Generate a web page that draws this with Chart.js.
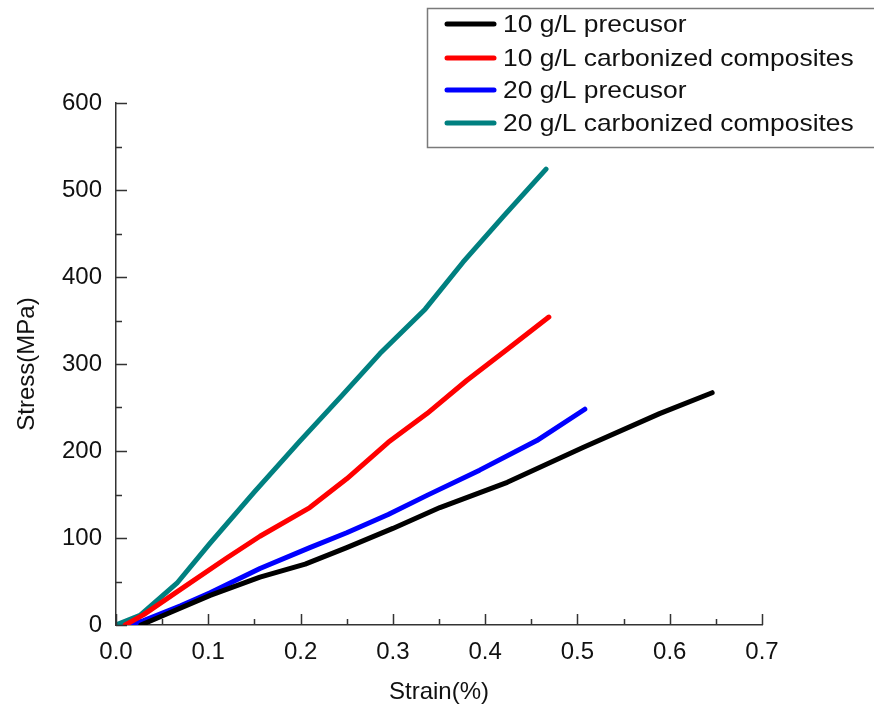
<!DOCTYPE html>
<html>
<head>
<meta charset="utf-8">
<script src="https://cdn.jsdelivr.net/npm/chart.js@4"></script>
<style>
  html, body { margin: 0; padding: 0; background: #fff; }
  #box { width: 874px; height: 708px; }
</style>
</head>
<body>
<div id="box"><canvas id="stress"></canvas></div>
<script>
// strain (%) / stress (MPa) readings for each sample
var strain10p = [0.027, 0.06, 0.102, 0.156, 0.205, 0.25, 0.3, 0.351, 0.424, 0.506, 0.589, 0.646];
var stress10p = [0, 15, 34, 55, 70, 89, 111, 135, 164, 204, 243, 267];

var strain10c = [0.01, 0.03, 0.066, 0.12, 0.156, 0.21, 0.25, 0.295, 0.337, 0.38, 0.423, 0.469];
var stress10c = [0, 12, 38, 77, 102, 135, 168, 210, 243, 281, 316, 354];

var strain20p = [0.015, 0.03, 0.07, 0.102, 0.156, 0.21, 0.25, 0.295, 0.337, 0.394, 0.456, 0.508];
var stress20p = [0, 5, 22, 37, 65, 89, 106, 127, 149, 178, 212, 248];

var strain20c = [0, 0.026, 0.066, 0.102, 0.15, 0.199, 0.245, 0.286, 0.335, 0.376, 0.42, 0.466];
var stress20c = [0, 11, 48, 94, 153, 211, 264, 312, 363, 417, 470, 524];

var seriesNames = ["10 g/L precusor", "10 g/L carbonized composites", "20 g/L precusor", "20 g/L carbonized composites"];
var seriesColors = ["#000000", "#ff0000", "#0000ff", "#008080"];

var xTicks = [0, 0.1, 0.2, 0.3, 0.4, 0.5, 0.6, 0.7];
var yTicks = [0, 100, 200, 300, 400, 500, 600];

var FONT = "'Liberation Sans', Arial, sans-serif";
var AXIS_COLOR = "#333";
var TEXT_COLOR = "#111";

function pairUp(xs, ys) {
    return xs.map(function (x, i) { return { x: x, y: ys[i] }; });
}

function makeSet(i, xs, ys) {
    return {
        label: seriesNames[i],
        data: pairUp(xs, ys),
        borderColor: seriesColors[i],
        backgroundColor: seriesColors[i],
        borderWidth: 5,
        borderCapStyle: 'round',
        borderJoinStyle: 'round',
        pointRadius: 0,
        showLine: true,
        fill: false,
        tension: 0
    };
}

// inward major and minor tick marks, like the plotting package draws them
var tickMarks = {
    id: 'tickMarks',
    afterDatasetsDraw: function (chart) {
        var ctx = chart.ctx;
        var xs = chart.scales.x, ys = chart.scales.y;
        var area = chart.chartArea;
        ctx.save();
        ctx.strokeStyle = AXIS_COLOR;
        ctx.lineWidth = 1.5;
        ctx.beginPath();
        for (var v = 0; v <= 0.7001; v += 0.05) {
            var px = Math.round(xs.getPixelForValue(v)) + 0.5;
            var major = Math.abs(v * 10 - Math.round(v * 10)) < 1e-6;
            ctx.moveTo(px, area.bottom);
            ctx.lineTo(px, area.bottom - (major ? 11 : 6));
        }
        for (var s = 0; s <= 600; s += 50) {
            var py = Math.round(ys.getPixelForValue(s)) + 0.5;
            ctx.moveTo(area.left, py);
            ctx.lineTo(area.left + (s % 100 === 0 ? 11 : 6), py);
        }
        ctx.stroke();
        ctx.restore();
    }
};

// framed legend in the top right corner
var boxLegend = {
    id: 'boxLegend',
    afterDraw: function (chart) {
        var ctx = chart.ctx;
        ctx.save();
        ctx.strokeStyle = "#7a7a7a";
        ctx.lineWidth = 1.5;
        ctx.strokeRect(427.5, 8.5, 470, 139);
        var rows = [24, 58, 90, 123];
        chart.data.datasets.forEach(function (ds, i) {
            ctx.strokeStyle = ds.borderColor;
            ctx.lineWidth = 5;
            ctx.lineCap = 'round';
            ctx.beginPath();
            ctx.moveTo(447, rows[i]);
            ctx.lineTo(494, rows[i]);
            ctx.stroke();
            ctx.save();
            ctx.translate(503, rows[i]);
            ctx.scale(1.1, 1);
            ctx.fillStyle = TEXT_COLOR;
            ctx.font = "24px " + FONT;
            ctx.textBaseline = 'middle';
            ctx.fillText(ds.label, 0, 1);
            ctx.restore();
        });
        ctx.restore();
    }
};

var chart = new Chart(document.getElementById("stress"), {
    type: 'scatter',
    data: {
        datasets: [
            makeSet(0, strain10p, stress10p),
            makeSet(1, strain10c, stress10c),
            makeSet(2, strain20p, stress20p),
            makeSet(3, strain20c, stress20c)
        ]
    },
    options: {
        responsive: true,
        maintainAspectRatio: false,
        animation: false,
        layout: { padding: { left: 0, top: 103, right: 112, bottom: 0 } },
        plugins: {
            legend: { display: false },
            tooltip: { enabled: false }
        },
        scales: {
            x: {
                type: 'linear',
                min: 0,
                max: 0.7,
                afterFit: function (scale) { scale.height = 83; },
                afterBuildTicks: function (scale) {
                    scale.ticks = xTicks.map(function (v) { return { value: v }; });
                },
                grid: { display: false },
                border: { display: true, color: AXIS_COLOR, width: 1.5 },
                ticks: {
                    color: TEXT_COLOR,
                    padding: 5,
                    font: { family: FONT, size: 24 },
                    callback: function (v) { return v.toFixed(1); }
                },
                title: {
                    display: true,
                    text: "Strain(%)",
                    color: TEXT_COLOR,
                    font: { family: FONT, size: 24 },
                    padding: { top: 0, bottom: 1 }
                }
            },
            y: {
                type: 'linear',
                min: 0,
                max: 600,
                afterFit: function (scale) { scale.width = 116; },
                afterBuildTicks: function (scale) {
                    scale.ticks = yTicks.map(function (v) { return { value: v }; });
                },
                grid: { display: false },
                border: { display: true, color: AXIS_COLOR, width: 1.5 },
                ticks: {
                    color: TEXT_COLOR,
                    padding: 6,
                    font: { family: FONT, size: 24 }
                },
                title: {
                    display: true,
                    text: "Stress(MPa)",
                    color: TEXT_COLOR,
                    font: { family: FONT, size: 24 },
                    padding: { top: 13, bottom: 0 }
                }
            }
        }
    },
    plugins: [tickMarks, boxLegend]
});
</script>
</body>
</html>
